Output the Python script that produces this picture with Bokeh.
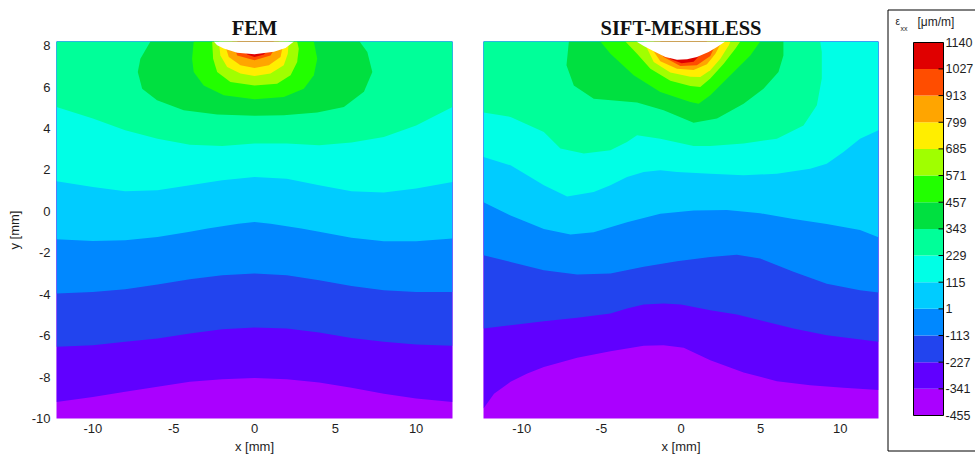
from bokeh.plotting import figure
from bokeh.layouts import row, column
from bokeh.models import Range1d, FixedTicker
from bokeh.core.properties import value
from bokeh.embed import file_html
from bokeh.resources import INLINE

# ---------------- data ----------------
LEVELS = [-455, -341, -227, -113, 1, 115, 229, 343, 457, 571, 685, 799, 913, 1027, 1140]
COLORS = ["#AA00FF", "#6000FF", "#2244EE", "#0088FF", "#00CCFF", "#00FFE6", "#00FF99",
          "#00E040", "#22FF00", "#A0FF00", "#FFEE00", "#FFA500", "#FF4D00", "#E00000"]
X_TICKS = [-10, -5, 0, 5, 10]
Y_TICKS = [-10, -8, -6, -4, -2, 0, 2, 4, 6, 8]
Y_TOP = 8.2
Y_BOTTOM = -10.0
FEM_XLIM = 12.25
SIFT_XLIM = 12.4

# FEM: contour boundaries (y at FEM_X), full width
FEM_X = [-12.25, -10, -8, -6, -4, -2, 0, 2, 4, 6, 8, 10, 12.25]
FEM_M341 = [-9.2, -8.96, -8.71, -8.47, -8.23, -8.1, -8.04, -8.1, -8.26, -8.52, -8.8, -9.04, -9.2]
FEM_M227 = [-6.54, -6.46, -6.3, -6.14, -5.9, -5.69, -5.61, -5.66, -5.85, -6.11, -6.3, -6.43, -6.49]
FEM_M113 = [-3.97, -3.89, -3.76, -3.53, -3.28, -3.08, -3.0, -3.08, -3.33, -3.6, -3.81, -3.89, -3.89]
FEM_P1_X = [-12.25, -10, -8, -6, -4, -2.9, -2, -1, 0, 1, 2, 2.9, 4, 6, 8, 10, 12.25]
FEM_P1 = [-1.35, -1.43, -1.40, -1.24, -0.99, -0.83, -0.72, -0.6, -0.51, -0.6, -0.72, -0.83,
          -0.99, -1.28, -1.44, -1.44, -1.31]
FEM_P115 = [1.45, 1.18, 0.97, 1.02, 1.26, 1.5, 1.66, 1.58, 1.26, 0.97, 0.91, 1.1, 1.42]
FEM_P229 = [5.04, 4.48, 3.91, 3.51, 3.22, 3.16, 3.27, 3.27, 3.19, 3.32, 3.59, 4.15, 5.04]
# FEM: closed contours around the notch
FEM_B343_X = [-6.44, -7.06, -7.22, -6.95, -6.03, -4.38, -2.31, 0, 1.81, 3.88, 5.53, 6.77, 7.29, 6.98, 6.5]
FEM_B343_Y = [8.2, 7.37, 6.73, 5.92, 5.36, 4.88, 4.67, 4.61, 4.64, 4.77, 5.04, 5.77, 6.73, 7.69, 8.2]
FEM_B457_X = [-3.76, -3.86, -3.76, -3.14, -1.9, 0, 1.81, 3.05, 3.67, 3.88, 3.67]
FEM_B457_Y = [8.2, 7.37, 6.73, 6.08, 5.6, 5.41, 5.52, 5.92, 6.57, 7.37, 8.2]
FEM_B571_X = [-2.62, -2.56, -2.31, -1.49, 0, 1.4, 2.23, 2.64, 2.74, 2.64]
FEM_B571_Y = [8.2, 7.37, 6.73, 6.25, 6.08, 6.16, 6.57, 7.21, 7.85, 8.2]
FEM_B685_X = [-2.21, -2.11, -1.69, -0.87, 0, 0.99, 1.81, 2.06, 2.12]
FEM_B685_Y = [8.2, 7.53, 6.97, 6.65, 6.54, 6.65, 7.05, 7.61, 8.2]
FEM_B799_X = [-1.9, -1.59, -0.87, 0, 0.89, 1.61, 1.81]
FEM_B799_Y = [8.2, 7.45, 7.05, 6.92, 7.05, 7.45, 8.2]
FEM_B913_X = [-1.38, -1.07, 0, 0.99, 1.51]
FEM_B913_Y = [8.2, 7.53, 7.29, 7.53, 8.2]
FEM_B1027_X = [-1.07, -0.45, 0, 0.58, 1.2]
FEM_B1027_Y = [8.2, 7.57, 7.45, 7.57, 8.2]
FEM_NOTCH_X = [-2.52, -2.31, -1.9, -1.07, 0, 1.2, 1.92, 2.44]
FEM_NOTCH_Y = [8.2, 8.02, 7.86, 7.66, 7.58, 7.7, 7.89, 8.2]

# SIFT-MESHLESS: contour boundaries
S_M341_X = [-12.4, -11.74, -10.7, -9.65, -8.61, -6.52, -4.43, -2.34, -1.09, 0.17, 1.84, 3.93, 6.02, 8.11, 10.2, 12.4]
S_M341_Y = [-9.52, -8.8, -8.23, -7.83, -7.51, -7.07, -6.75, -6.49, -6.46, -6.59, -7.19, -7.78, -8.2, -8.39, -8.52, -8.63]
S_M227_X = [-12.4, -10.7, -8.61, -6.52, -4.43, -3.39, -2.34, -1.09, 0, 1.84, 3.51, 4.97, 7.06, 9.15, 12.4]
S_M227_Y = [-5.66, -5.5, -5.3, -5.14, -4.93, -4.69, -4.5, -4.45, -4.5, -4.77, -4.98, -5.26, -5.66, -5.98, -6.3]
S_M113_X = [-12.4, -10.7, -8.61, -6.52, -4.43, -2.34, -0.25, 1.84, 3.51, 4.97, 7.06, 9.15, 11.24, 12.4]
S_M113_Y = [-2.12, -2.44, -2.84, -3.05, -3.0, -2.68, -2.41, -2.2, -2.09, -2.28, -2.92, -3.49, -3.81, -3.92]
S_P1_X = [-12.4, -10.7, -8.61, -6.94, -5.48, -3.39, -1.3, 0.79, 2.88, 4.97, 7.06, 9.15, 11.24, 12.4]
S_P1_Y = [0.44, -0.2, -0.85, -1.12, -1.01, -0.53, -0.12, 0.04, 0.07, -0.09, -0.37, -0.61, -0.9, -1.25]
S_P115_X = [-12.4, -10.7, -9.65, -8.61, -7.15, -5.48, -4.43, -3.39, -2.34, -1.3, -0.25, 1.84, 3.93, 6.02, 8.11, 9.15, 10.2, 11.24, 12.4]
S_P115_Y = [2.63, 2.22, 1.74, 1.26, 0.72, 0.94, 1.26, 1.66, 1.9, 1.98, 1.9, 1.82, 1.74, 1.82, 2.06, 2.3, 2.87, 3.51, 3.91]
S_P229_X = [-12.4, -10.7, -8.61, -7.57, -6.1, -4.43, -3.39, -2.76, -1.3, 0.79, 1.84, 3.93, 6.02, 7.69, 8.53, 8.84, 8.84, 8.74]
S_P229_Y = [4.77, 4.56, 3.83, 3.03, 2.79, 2.95, 3.35, 3.67, 3.51, 3.16, 3.16, 3.27, 3.51, 4.15, 5.12, 6.41, 7.69, 8.2]
S_B343_X = [-7.04, -7.19, -6.73, -5.48, -2.76, -1.09, 0.79, 2.26, 3.93, 5.18, 6.12, 6.43, 6.43]
S_B343_Y = [8.2, 7.05, 6.08, 5.44, 5.25, 4.88, 4.28, 4.48, 5.2, 5.92, 6.73, 7.53, 8.2]
S_B457_X = [-5.06, -4.43, -2.97, -1.3, 0.59, 1.11, 1.84, 3.1, 4.35, 4.97]
S_B457_Y = [8.2, 7.61, 6.57, 5.76, 5.28, 5.2, 5.6, 6.57, 7.53, 8.2]
S_B571_X = [-3.49, -2.76, -1.92, -0.67, 0.59, 1.21, 1.84, 2.68, 3.41, 3.72]
S_B571_Y = [8.2, 7.61, 6.89, 6.3, 6.05, 6.0, 6.41, 7.13, 7.85, 8.2]
S_B685_X = [-2.34, -1.71, -0.67, 0.59, 1.21, 1.84, 2.47, 3.0, 3.1]
S_B685_Y = [8.2, 7.21, 6.7, 6.5, 6.49, 6.81, 7.37, 8.02, 8.2]
S_B799_X = [-2.13, -1.3, -0.25, 0.79, 1.63, 2.16, 2.57]
S_B799_Y = [8.2, 7.25, 6.88, 6.82, 7.1, 7.61, 8.2]
S_B913_X = [-1.71, -1.09, -0.04, 1.0, 1.84, 2.26]
S_B913_Y = [8.2, 7.45, 7.02, 7.05, 7.5, 8.2]
S_B1027_X = [-1.3, -0.67, 0.04, 0.79, 1.31, 1.63]
S_B1027_Y = [8.2, 7.35, 7.15, 7.22, 7.65, 8.2]
S_NOTCH_X = [-2.8, -2.34, -1.71, -0.98, -0.25, 0.38, 1.0, 1.73, 2.26, 2.78]
S_NOTCH_Y = [8.2, 7.98, 7.73, 7.45, 7.32, 7.34, 7.45, 7.69, 7.93, 8.2]

FEM_LAYERS = [(FEM_X, FEM_M341), (FEM_X, FEM_M227), (FEM_X, FEM_M113), (FEM_P1_X, FEM_P1),
              (FEM_X, FEM_P115), (FEM_X, FEM_P229), (FEM_B343_X, FEM_B343_Y),
              (FEM_B457_X, FEM_B457_Y), (FEM_B571_X, FEM_B571_Y), (FEM_B685_X, FEM_B685_Y),
              (FEM_B799_X, FEM_B799_Y), (FEM_B913_X, FEM_B913_Y), (FEM_B1027_X, FEM_B1027_Y)]
SIFT_LAYERS = [(S_M341_X, S_M341_Y), (S_M227_X, S_M227_Y), (S_M113_X, S_M113_Y), (S_P1_X, S_P1_Y),
               (S_P115_X, S_P115_Y), (S_P229_X, S_P229_Y), (S_B343_X, S_B343_Y),
               (S_B457_X, S_B457_Y), (S_B571_X, S_B571_Y), (S_B685_X, S_B685_Y),
               (S_B799_X, S_B799_Y), (S_B913_X, S_B913_Y), (S_B1027_X, S_B1027_Y)]

# ---------------- layout ----------------
H = 456
TOP_B = 41
BOT_B = 38
SANS = "Liberation Sans"
TXT = "#1e1e1e"


def region_above(cx, cy):
    return list(cx) + [cx[-1], cx[0]], list(cy) + [Y_TOP, Y_TOP]


def style_axis(ax, ticks, label, standoff, label_standoff):
    ax.ticker = FixedTicker(ticks=ticks)
    ax.major_label_overrides = {t: str(t) for t in ticks}
    ax.axis_line_color = None
    ax.major_tick_line_color = None
    ax.minor_tick_line_color = None
    ax.major_tick_out = 0
    ax.major_tick_in = 0
    ax.minor_tick_out = 0
    ax.minor_tick_in = 0
    ax.major_label_text_font = SANS
    ax.major_label_text_font_size = "13px"
    ax.major_label_text_color = TXT
    ax.major_label_standoff = standoff
    ax.axis_label = label
    ax.axis_label_text_font = SANS
    ax.axis_label_text_font_size = "13px"
    ax.axis_label_text_font_style = "normal"
    ax.axis_label_text_color = TXT
    ax.axis_label_standoff = label_standoff


def panel(title, layers, notch_x, notch_y, xlim, width, mbl, mbr, show_y):
    p = figure(width=width, height=H, x_range=Range1d(-xlim, xlim),
               y_range=Range1d(Y_BOTTOM, Y_TOP), output_backend="svg",
               toolbar_location=None, min_border_left=mbl, min_border_right=mbr,
               min_border_top=TOP_B, min_border_bottom=BOT_B, title=title)
    p.background_fill_color = COLORS[0]
    p.border_fill_color = "white"
    p.outline_line_color = None
    p.xgrid.visible = False
    p.ygrid.visible = False
    for (cx, cy), col in zip(layers, COLORS[1:]):
        xs, ys = region_above(cx, cy)
        p.patch(xs, ys, fill_color=col, line_color=None)
    p.patch(notch_x, notch_y, fill_color="white", line_color=None)

    p.title.align = "center"
    p.title.text_font = "Liberation Serif"
    p.title.text_font_style = "bold"
    p.title.text_font_size = "20.5px"
    p.title.text_color = "#111111"
    p.title.standoff = 6

    style_axis(p.xaxis[0], X_TICKS, "x [mm]", 5, 3)
    if show_y:
        style_axis(p.yaxis[0], Y_TICKS, "y [mm]", 6, 7)
    else:
        p.yaxis[0].visible = False
    return p


p1 = panel("FEM", FEM_LAYERS, FEM_NOTCH_X, FEM_NOTCH_Y, FEM_XLIM, 467, 56, 15, True)
p2 = panel("SIFT-MESHLESS", SIFT_LAYERS, S_NOTCH_X, S_NOTCH_Y, SIFT_XLIM, 412, 16, 1, False)

# ---------------- colour bar ----------------
CW = 96
BAR_TOP_PX = 42
BAR_BOT_PX = 415
k = (BAR_BOT_PX - BAR_TOP_PX) / (LEVELS[-1] - LEVELS[0])   # px per unit
y_hi = LEVELS[-1] + BAR_TOP_PX / k
y_lo = LEVELS[0] - (H - BAR_BOT_PX) / k


def vy(py):
    """pixel row inside the colour-bar figure -> data value"""
    return y_hi - py / k


pc = figure(width=CW, height=H, x_range=Range1d(0, CW), y_range=Range1d(y_lo, y_hi),
            output_backend="svg", toolbar_location=None, min_border=0,
            x_axis_location=None, y_axis_location=None)
pc.outline_line_color = None
pc.xgrid.visible = False
pc.ygrid.visible = False
pc.border_fill_color = "white"

box_top = vy(9.5)
box_bot = vy(450.5)
pc.line(x=[CW, 8.5, 8.5, CW], y=[box_top, box_top, box_bot, box_bot],
        line_color="black", line_width=1)
pc.quad(left=34, right=64, bottom=LEVELS[:-1], top=LEVELS[1:],
        fill_color=COLORS, line_color=None)
pc.quad(left=34, right=64, bottom=LEVELS[0], top=LEVELS[-1],
        fill_color=None, line_color="black", line_width=1)
pc.segment(x0=59, x1=64, y0=LEVELS[1:-1], y1=LEVELS[1:-1], line_color="black", line_width=1)
pc.text(x=66, y=LEVELS, text=[str(v) for v in LEVELS], text_font=value(SANS),
        text_font_size="12.5px", text_color=TXT, text_baseline="middle", text_align="left")
pc.text(x=[16], y=[vy(21)], text=["ε"], text_font=value(SANS), text_font_size="10px",
        text_color=TXT, text_baseline="middle", text_align="left")
pc.text(x=[21], y=[vy(28)], text=["xx"], text_font=value(SANS), text_font_size="7px",
        text_color=TXT, text_baseline="middle", text_align="left")
pc.text(x=[38], y=[vy(21)], text=["[μm/m]"], text_font=value(SANS), text_font_size="12px",
        text_color=TXT, text_baseline="middle", text_align="left")

layout = row(p1, p2, column(pc))
open("out.html", "w").write(file_html(layout, INLINE))
